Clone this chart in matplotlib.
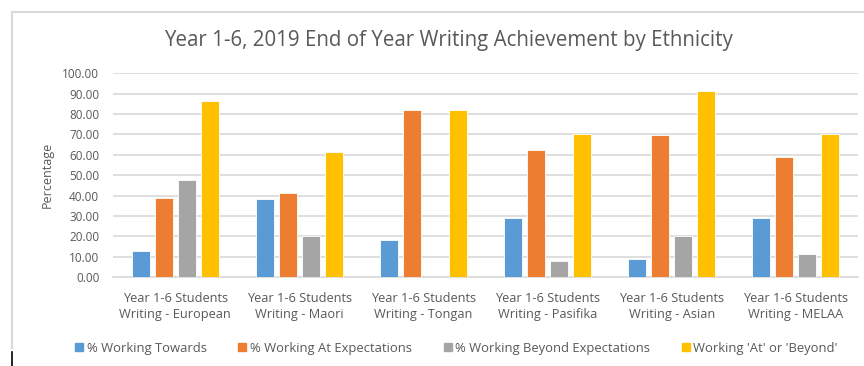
import matplotlib.pyplot as plt
import numpy as np
from matplotlib.lines import Line2D

plt.rcParams['font.family'] = ['Open Sans', 'DejaVu Sans']

# 各グループの値
groups = [
    "Year 1-6 Students\nWriting - European",
    "Year 1-6 Students\nWriting - Maori",
    "Year 1-6 Students\nWriting - Tongan",
    "Year 1-6 Students\nWriting - Pasifika",
    "Year 1-6 Students\nWriting - Asian",
    "Year 1-6 Students\nWriting - MELAA",
]
towards = [12.7, 38.2, 18.0, 28.9, 8.9, 28.9]
at_exp = [39.0, 41.1, 82.0, 62.1, 69.7, 58.9]
beyond = [47.4, 20.3, 0.0, 8.0, 20.3, 11.2]
at_or_beyond = [86.6, 61.2, 82.0, 70.3, 91.1, 70.3]

series_labels = [
    "% Working Towards",
    "% Working At Expectations",
    "% Working Beyond Expectations",
    "Working 'At' or 'Beyond'",
]
colors = ["#5b9bd5", "#ed7d31", "#a5a5a5", "#ffc000"]

fig = plt.figure(figsize=(8.64, 3.66), dpi=100)
ax = fig.add_axes([0.131, 0.243, 0.862, 0.557])

x = np.arange(len(groups))
step = 0.185
for i, vals in enumerate([towards, at_exp, beyond, at_or_beyond]):
    ax.bar(x + (i - 1.5) * step, vals, width=step * 0.78,
           color=colors[i], edgecolor="white", linewidth=0.6, zorder=3)

ax.set_xlim(-0.5, len(groups) - 0.5)
ax.set_ylim(0, 100)
ax.set_yticks(np.arange(0, 101, 10))
ax.set_yticklabels([f"{v:.2f}" for v in np.arange(0, 101, 10)])
ax.set_xticks(x)
ax.set_xticklabels(groups, linespacing=1.3)
ax.tick_params(axis="both", length=0, colors="#595959", labelsize=8.5)
ax.tick_params(axis="x", pad=11, labelsize=9.2)
ax.tick_params(axis="y", pad=10)
ax.grid(axis="y", color="#d9d9d9", linewidth=1.2, zorder=0)
for s in ["top", "right", "left"]:
    ax.spines[s].set_visible(False)
ax.spines["bottom"].set_color("#d9d9d9")
ax.spines["bottom"].set_linewidth(1.2)

ax.set_ylabel("Percentage", color="#595959", fontsize=9, labelpad=6)

fig.text(0.519, 0.888, "Year 1-6, 2019 End of Year Writing Achievement by Ethnicity",
         ha="center", va="center", fontsize=14.8, color="#595959")

# 凡例
handles = [Line2D([], [], marker="s", linestyle="", markersize=6,
                  color=c) for c in colors]
fig.legend(handles, series_labels, loc="center", bbox_to_anchor=(0.527, 0.048),
           ncol=4, frameon=False, fontsize=9.4, labelcolor="#595959",
           handletextpad=0.1, columnspacing=2.2, handlelength=1.0)

# グラフ枠
fig.add_artist(Line2D([12 / 864, 1.0], [1 - 12 / 366, 1 - 12 / 366],
                      color="#d9d9d9", linewidth=1.5))
fig.add_artist(Line2D([12 / 864, 12 / 864], [1 - 12 / 366, 1 - 348 / 366],
                      color="#d9d9d9", linewidth=1.5))
fig.add_artist(Line2D([12 / 864, 12 / 864], [1 - 352 / 366, 0.0],
                      color="black", linewidth=1.2))

fig.savefig("out.png", dpi=100)
